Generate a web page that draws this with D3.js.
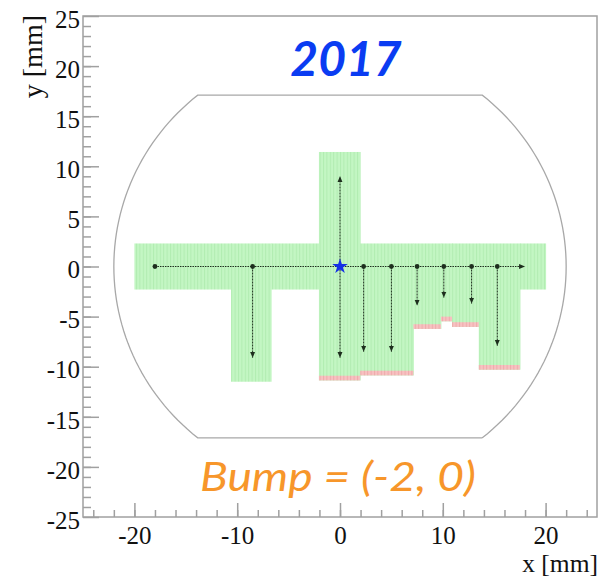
<!DOCTYPE html>
<html>
<head>
<meta charset="utf-8">
<script src="https://cdn.jsdelivr.net/npm/d3@7"></script>
<style>
  body { margin: 0; background: #fff; }
  svg { display: block; }
</style>
</head>
<body>
<div id="chart"></div>
<script>
// scan area, one column per step of the lower edge (mm)
var colX0 = [-20, -10.6, -6.7, -2.05, 1.96, 7.14, 9.82, 10.9, 13.5, 17.5]
var colX1 = [-10.6, -6.7, -2.05, 1.96, 7.14, 9.82, 10.9, 13.5, 17.5, 20]
var colBottom = [-2.3, -11.5, -2.3, -11.37, -10.87, -6.23, -5.47, -6.03, -10.3, -2.3]
var colTop = [2.3, 2.3, 2.3, 11.43, 2.3, 2.3, 2.3, 2.3, 2.3, 2.3]
var colEdge = [0, 0, 0, 1, 1, 1, 1, 1, 1, 0]
var edgeDepth = 0.47

// scan paths
var hStartX = -18, hEndX = 18
var vStartX = [-8.5, 0, 0, 2.3, 5.0, 7.5, 10.1, 12.8, 15.3]
var vEndY = [-9.1, 9.0, -9.1, -8.5, -8.5, -3.9, -3.1, -3.7, -7.9]
var dotX = [-18, -8.5, 2.3, 5.0, 7.5, 10.1, 12.8, 15.3]
var bump = [0, 0]

// aperture
var apRadius = 22, apFlat = 17.1

// axes
var xMajor = [-20, -10, 0, 10, 20]
var xMinor = d3.range(-24, 25, 2)
var yMajor = [-25, -20, -15, -10, -5, 0, 5, 10, 15, 20, 25]
var yMinor = d3.range(-24, 25, 1)

var width = 605,
    height = 578

var x = d3.scaleLinear().domain([-25, 25]).range([83, 597])
var y = d3.scaleLinear().domain([-25, 25]).range([517, 16])

var svg = d3.select("#chart")
  .append("svg")
    .attr("width", width)
    .attr("height", height)

var defs = svg.append("defs")

function stripes(id, base, line) {
  var p = defs.append("pattern")
    .attr("id", id)
    .attr("patternUnits", "userSpaceOnUse")
    .attr("width", 3.4)
    .attr("height", 10)
  p.append("rect").attr("width", 3.4).attr("height", 10).attr("fill", base)
  p.append("rect").attr("width", 1).attr("height", 10).attr("fill", line)
}
stripes("green", "#c3f6c3", "#b1ecb1")
stripes("red", "#f7c2c2", "#eeaaaa")

defs.append("marker")
    .attr("id", "head")
    .attr("markerUnits", "userSpaceOnUse")
    .attr("viewBox", "0 -4 8 8")
    .attr("refX", 6)
    .attr("refY", 0)
    .attr("markerWidth", 8)
    .attr("markerHeight", 8)
    .attr("orient", "auto")
  .append("path")
    .attr("d", "M0,-2.6L6,0L0,2.6Z")
    .attr("fill", "#1d2e1d")

// aperture outline
var a0 = Math.asin(apFlat / apRadius)
var right = d3.range(-a0, a0 + 1e-9, (2 * a0) / 60).map(function(t) {
  return [apRadius * Math.cos(t), apRadius * Math.sin(t)]
})
var left = right.map(function(p) { return [-p[0], -p[1]] })
var outline = right.concat(left)
outline.push(right[0])

svg.append("path")
  .attr("d", d3.line().x(function(d) { return x(d[0]) }).y(function(d) { return y(d[1]) })(outline))
  .attr("fill", "none")
  .attr("stroke", "#a8a8a8")
  .attr("stroke-width", 1.3)

// scan area
var cols = colX0.map(function(d, i) {
  return {x0: d, x1: colX1[i], b: colBottom[i], t: colTop[i], e: colEdge[i]}
})

svg.selectAll(".col")
  .data(cols)
  .enter()
  .append("rect")
    .attr("class", "col")
    .attr("x", function(d) { return x(d.x0) })
    .attr("width", function(d) { return x(d.x1) - x(d.x0) + 0.5 })
    .attr("y", function(d) { return y(d.t) })
    .attr("height", function(d) { return y(d.b) - y(d.t) })
    .attr("fill", "url(#green)")

svg.selectAll(".edge")
  .data(cols.filter(function(d) { return d.e }))
  .enter()
  .append("rect")
    .attr("class", "edge")
    .attr("x", function(d) { return x(d.x0) })
    .attr("width", function(d) { return x(d.x1) - x(d.x0) })
    .attr("y", function(d) { return y(d.b + edgeDepth) })
    .attr("height", function(d) { return y(d.b) - y(d.b + edgeDepth) })
    .attr("fill", "url(#red)")

// scan paths
svg.append("line")
  .attr("x1", x(hStartX)).attr("x2", x(hEndX))
  .attr("y1", y(0)).attr("y2", y(0))
  .attr("stroke", "#1d2e1d")
  .attr("stroke-width", 1)
  .attr("stroke-dasharray", "1.5,1")
  .attr("marker-end", "url(#head)")

svg.selectAll(".vpath")
  .data(vStartX)
  .enter()
  .append("line")
    .attr("class", "vpath")
    .attr("x1", function(d) { return x(d) })
    .attr("x2", function(d) { return x(d) })
    .attr("y1", y(0))
    .attr("y2", function(d, i) { return y(vEndY[i]) })
    .attr("stroke", "#1d2e1d")
    .attr("stroke-width", 1)
    .attr("stroke-dasharray", "2,1")
    .attr("marker-end", "url(#head)")

svg.selectAll(".dot")
  .data(dotX)
  .enter()
  .append("circle")
    .attr("class", "dot")
    .attr("cx", function(d) { return x(d) })
    .attr("cy", y(0))
    .attr("r", 2.4)
    .attr("fill", "#1d2e1d")

svg.append("path")
  .attr("d", d3.symbol().type(d3.symbolStar).size(75)())
  .attr("transform", "translate(" + x(bump[0]) + "," + y(bump[1]) + ")")
  .attr("fill", "#1530e6")

// frame
svg.append("rect")
  .attr("x", x(-25)).attr("y", y(25))
  .attr("width", x(25) - x(-25))
  .attr("height", y(-25) - y(25))
  .attr("fill", "none")
  .attr("stroke", "#a0a0a0")
  .attr("stroke-width", 1.5)

function styleAxis(g) {
  g.select(".domain").remove()
  g.selectAll("line").attr("stroke", "#a0a0a0").attr("stroke-width", 1.5)
  g.selectAll("text")
    .attr("fill", "#111")
    .style("font-family", "'Liberation Serif', 'Times New Roman', serif")
    .style("font-size", "25px")
}

svg.append("g")
  .attr("transform", "translate(0," + y(-25) + ")")
  .call(d3.axisBottom(x).tickValues(xMinor).tickSize(-7).tickFormat(""))
  .call(styleAxis)

svg.append("g")
  .attr("transform", "translate(0," + y(-25) + ")")
  .call(d3.axisBottom(x).tickValues(xMajor).tickSizeInner(-14).tickSizeOuter(0).tickPadding(9).tickFormat(d3.format("d")))
  .call(styleAxis)

svg.append("g")
  .attr("transform", "translate(" + x(-25) + ",0)")
  .call(d3.axisLeft(y).tickValues(yMinor).tickSize(-8).tickFormat(""))
  .call(styleAxis)

svg.append("g")
  .attr("transform", "translate(" + x(-25) + ",0)")
  .call(d3.axisLeft(y).tickValues(yMajor).tickSizeInner(-16).tickSizeOuter(0).tickPadding(3).tickFormat(d3.format("d")))
  .call(styleAxis)
  .selectAll("text").attr("dy", "0.45em")

svg.selectAll(".tick text").text(function() { return this.textContent.replace("\u2212", "-") })

// axis titles
svg.append("text")
  .attr("x", 598).attr("y", 572.3)
  .attr("text-anchor", "end")
  .style("font-family", "'Liberation Serif', serif")
  .style("font-size", "25.5px")
  .attr("fill", "#111")
  .text("x [mm]")

svg.append("text")
  .attr("transform", "translate(42,15) rotate(-90)")
  .attr("text-anchor", "end")
  .style("font-family", "'Liberation Serif', serif")
  .style("font-size", "28px")
  .attr("fill", "#111")
  .text("y [mm]")

// annotations
svg.append("text")
  .attr("x", 346).attr("y", 76)
  .attr("text-anchor", "middle")
  .style("font-family", "Lato, 'Open Sans', sans-serif")
  .style("font-size", "48px")
  .style("font-weight", "bold")
  .style("font-style", "italic")
  .attr("fill", "#0a3cf2")
  .text("2017")

svg.append("text")
  .attr("x", 200).attr("y", 491)
  .attr("textLength", 276)
  .attr("lengthAdjust", "spacingAndGlyphs")
  .style("font-family", "Lato, 'Open Sans', sans-serif")
  .style("font-size", "40px")
  .style("font-style", "italic")
  .attr("fill", "#f7962a")
  .text("Bump = (-2, 0)")
</script>
</body>
</html>
